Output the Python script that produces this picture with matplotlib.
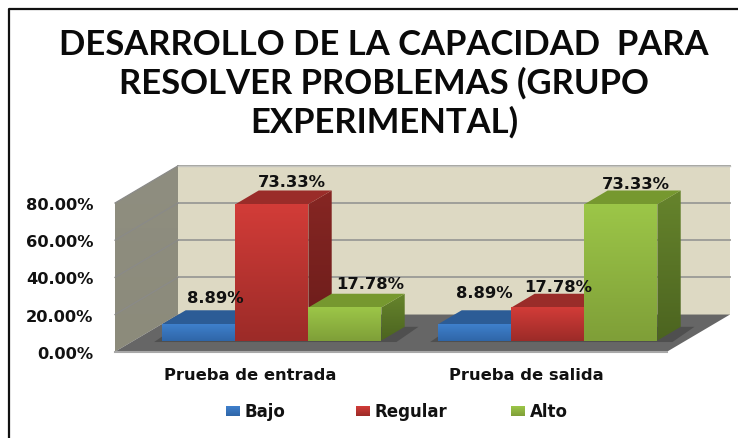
#!/usr/bin/env python3
"""Oblique 3D column chart, drawn on a flat axes."""

import numpy as np
import matplotlib

matplotlib.use("Agg")
import matplotlib.pyplot as plt
from matplotlib.colors import to_rgb
from matplotlib.patches import Polygon
from matplotlib.lines import Line2D

W, H = 738, 439

categories = ["Prueba de entrada", "Prueba de salida"]
series = ["Bajo", "Regular", "Alto"]
bajo = [8.89, 8.89]
regular = [73.33, 17.78]
alto = [17.78, 73.33]
yticks = [0, 20, 40, 60, 80]

TITLE = "DESARROLLO DE LA CAPACIDAD  PARA\nRESOLVER PROBLEMAS (GRUPO\nEXPERIMENTAL)"

# (top, bottom) of front face, (top, bottom) of side face, top face
COLORS = {
    "Bajo": (("#3F80CC", "#2F66A8"), ("#234E80", "#234E80"), "#2C5C96"),
    "Regular": (("#D23C38", "#9C2B28"), ("#862623", "#6A1C1A"), "#9A2C29"),
    "Alto": (("#9CC648", "#7F9F38"), ("#66842C", "#4C6420"), "#76982F"),
}

# front plane of the chart box, in pixels
X0, X1 = 115, 667
Y0, Y80 = 352.7, 204
DX, DY = 63 / 276, 20.0  # box depth in data units
BAR_W = 73 / 276
BAR_F, BAR_B = 0.30, 0.67  # bar front and back, as fraction of the depth
GROUP_C = 0.5

# label offsets from the bar's top face, pixels: (x, up)
label_offsets = {
    (0, 0): (4.5, 20), (0, 1): (8, 16), (0, 2): (14, 17.5),
    (1, 0): (-2, 25), (1, 1): (-1, 14.5), (1, 2): (3.5, 14),
}


def gradient(ax, poly, top, bottom, z):
    c0 = np.array(to_rgb(top))
    c1 = np.array(to_rgb(bottom))
    t = np.linspace(0, 1, 64)[:, None]
    img = (c0 + (c1 - c0) * t)[:, None, :]
    p = np.array(poly)
    ylim = ax.get_ylim()
    # origin follows the axis direction so "top" is always the upper edge on screen
    ext = (p[:, 0].min(), p[:, 0].max(), p[:, 1].min(), p[:, 1].max())
    if ylim[0] > ylim[1]:
        ext = (ext[0], ext[1], ext[3], ext[2])
    im = ax.imshow(img, extent=ext, aspect="auto", origin="upper", zorder=z,
                   interpolation="bilinear")
    patch = Polygon(p, closed=True, fc="none", ec="none", clip_on=False)
    ax.add_patch(patch)
    im.set_clip_path(patch)
    im.set_clip_box(ax.figure.bbox)


def add_poly(ax, pts, color, z):
    ax.add_patch(Polygon(pts, closed=True, fc=color, ec="none", zorder=z, clip_on=False))


def draw_bar(ax, x, h, name, z):
    front, side, top = COLORS[name]
    x0, x1 = x, x + BAR_W
    fx, fy = DX * BAR_F, DY * BAR_F
    bx, by = DX * BAR_B, DY * BAR_B
    a = (x0 + fx, fy)
    b = (x1 + fx, fy)
    c = (x1 + fx, fy + h)
    d = (x0 + fx, fy + h)
    c2 = (x1 + bx, by + h)
    d2 = (x0 + bx, by + h)
    b2 = (x1 + bx, by)
    gradient(ax, [b, b2, c2, c], side[0], side[1], z)
    add_poly(ax, [d, c, c2, d2], top, z)
    gradient(ax, [a, b, c, d], front[0], front[1], z + 0.1)


def main():
    fig = plt.figure(figsize=(W / 100, H / 100), dpi=100)
    ax = fig.add_axes([X0 / W, 1 - Y0 / H, (X1 - X0) / W, (Y0 - Y80) / H], facecolor="none")
    ax.set_xlim(0, 2)
    ax.set_ylim(0, 80)
    ax.set_autoscale_on(False)
    for s in ax.spines.values():
        s.set_visible(False)

    top = yticks[-1]
    bx0, bx1 = DX, 2 + DX
    # back wall, side wall, floor
    add_poly(ax, [(bx0, DY), (bx1, DY), (bx1, top + DY), (bx0, top + DY)], "#DDD9C3", 1)
    gradient(ax, [(0, 0), (bx0, DY), (bx0, top + DY), (0, top)], "#8F8E80", "#8C8B7B", 1)
    add_poly(ax, [(0, 0), (2, 0), (bx1, DY), (bx0, DY)], "#666666", 2)

    # grid
    for v in yticks[1:]:
        ax.plot([bx0, bx1], [v + DY, v + DY], color="#9A9A96", lw=1.3, zorder=1.5, clip_on=False)
        ax.plot([0, bx0], [v, v + DY], color="#8A8A88", lw=0.9, zorder=1.5, clip_on=False)
    ax.plot([bx0, bx1], [top + DY, top + DY], color="#C4C4BE", lw=1.0, zorder=1.5, clip_on=False)
    ax.plot([0, 2], [0, 0], color="#A8A8A8", lw=1.5, zorder=2.1, clip_on=False)

    # bars
    values = {"Bajo": bajo, "Regular": regular, "Alto": alto}
    off = 3 * BAR_W / 2
    for i in range(len(categories)):
        left = i + GROUP_C - off
        sx0 = left + DX * BAR_F - 0.03
        sx1 = left + 2 * off + DX * BAR_B + 0.05
        add_poly(ax, [(sx0, DY * BAR_F - 0.8), (sx1 - 0.08, DY * BAR_F - 0.8),
                      (sx1, DY * BAR_B), (sx0 + 0.08, DY * BAR_B)], "#4F4F4F", 2.5)
        for j, name in enumerate(series):
            h = values[name][i]
            x = left + j * BAR_W
            draw_bar(ax, x, h, name, 3 + j)
            # anchor the label on the centre of the bar's top face
            mid = (BAR_F + BAR_B) / 2
            ax.annotate(f"{h:.2f}%", xy=(x + BAR_W / 2 + DX * mid, h + DY * mid),
                        xytext=label_offsets[(i, j)], textcoords="offset pixels",
                        ha="center", va="center", fontsize=11.8, fontweight="bold",
                        color="#111111", zorder=10, annotation_clip=False)

    # ticks
    ax.set_xticks([])
    ax.set_yticks(yticks)
    ax.set_yticklabels([f"{v:.2f}%" for v in yticks], fontsize=11.7, fontweight="bold", color="#111111")
    ax.tick_params(axis="y", length=0, pad=15.5)

    # category labels
    for i, c in enumerate(categories):
        ax.text(i + 0.49, -12, c, ha="center", va="center", fontsize=11.8,
                fontweight="bold", color="#111111", clip_on=False)

    fig.text(384 / W, 1 - 84 / H, TITLE, ha="center", va="center", fontsize=24.9,
             fontweight="bold", family="Lato", color="#0A0A0A", linespacing=1.24)

    # legend, on an axes in pixel units
    lg = fig.add_axes([0, 0, 1, 1], facecolor="none")
    lg.set_xlim(0, W)
    lg.set_ylim(H, 0)
    lg.set_autoscale_on(False)
    lg.axis("off")
    leg_x = [233, 362.5, 518]
    for name, x in zip(series, leg_x):
        front = COLORS[name][0]
        gradient(lg, [(x - 7, 407), (x + 7, 407), (x + 7, 417), (x - 7, 417)], front[0], front[1], 3)
        lg.text(x + 11.5, 412, name, ha="left", va="center", fontsize=12, fontweight="bold",
                family="DejaVu Sans", color="#111111")

    # frame: only the left and top edges are drawn
    fig.add_artist(Line2D([8.5 / W, 8.5 / W, 1], [0, 1 - 10 / H, 1 - 10 / H],
                          color="#111111", lw=1.6, transform=fig.transFigure))
    fig.savefig("out.png", dpi=100)


if __name__ == "__main__":
    main()
